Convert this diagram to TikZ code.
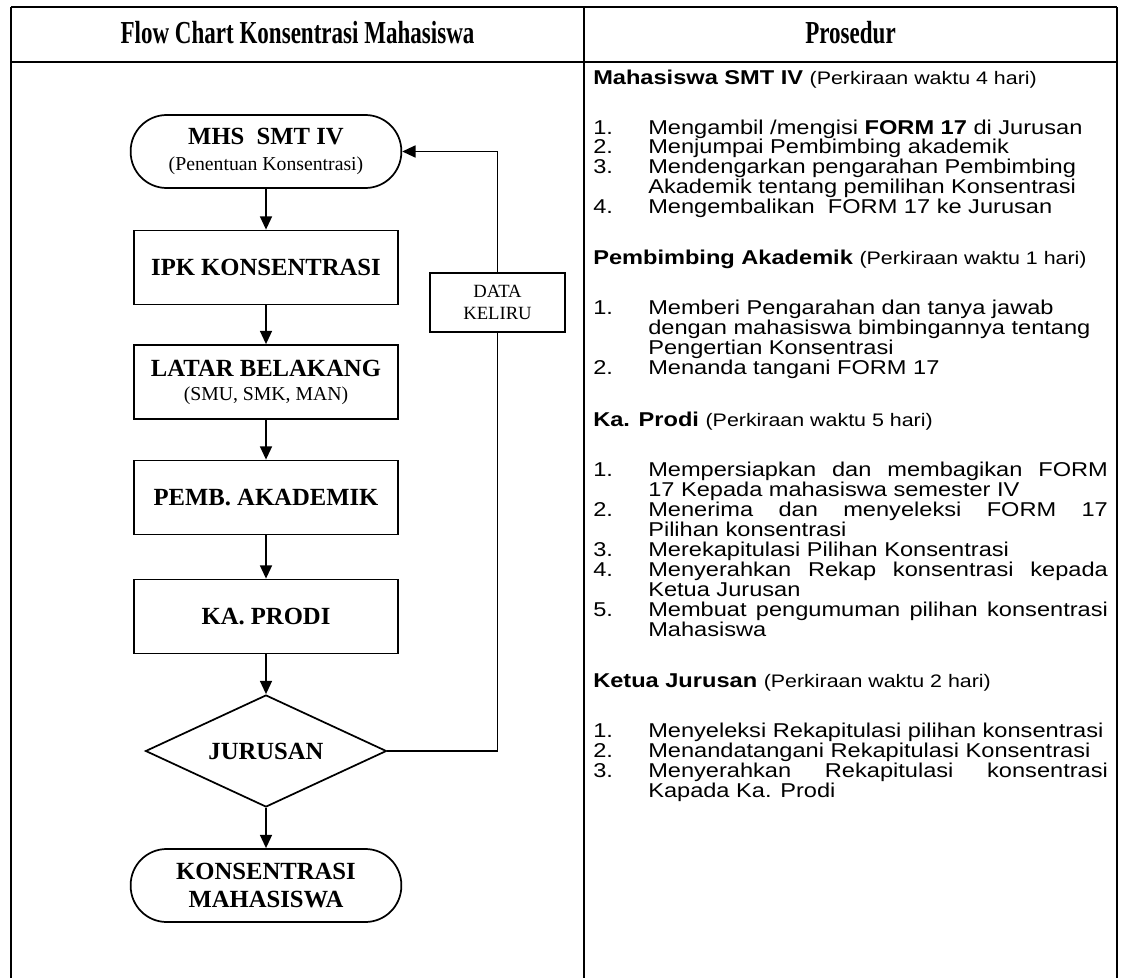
\documentclass[tikz,border=0pt]{standalone}
\usepackage{fontspec}
\setmainfont{Liberation Serif}
\newfontfamily\prosfont[FakeStretch=1.18]{Liberation Sans}
\newfontfamily\judulfont[FakeStretch=0.72]{Liberation Serif}
\usetikzlibrary{shapes.geometric,arrows.meta}
\setlength{\lineskiplimit}{-10pt}
\newcommand{\butir}[2]{\par\noindent\hangindent=41.25pt\hangafter=1\makebox[41.25pt][l]{#1}#2\par}
\begin{document}
\begin{tikzpicture}[x=0.75pt,y=-0.75pt,
  garis/.style={line width=1.3pt},
  proses/.style={draw,line width=1.3pt,minimum width=198pt,minimum height=55.5pt,inner sep=0pt,align=center,font=\bfseries\fontsize{18.5}{21}\selectfont},
  terminal/.style={proses,rounded corners=27pt,minimum width=203pt,minimum height=54.75pt},
  keputusan/.style={proses,diamond,aspect=2.15,minimum width=180.75pt,minimum height=84pt},
  catatan/.style={draw,line width=1.3pt,minimum width=101.25pt,minimum height=44.25pt,inner sep=0pt,align=center,font=\fontsize{14}{17}\selectfont},
  panah/.style={line width=1.3pt,-{Triangle[length=10pt,width=9pt]}},
  judul/.style={font=\judulfont\bfseries\fontsize{24}{26}\selectfont},
  blok/.style={anchor=base west,inner sep=0pt,text width=386pt,align=justify,font=\prosfont\fontsize{15}{15}\selectfont}]
\useasboundingbox (0,0) rectangle (1122,978);
% tabel
\draw[line width=2pt] (11,7) -- (1117,7);
\draw[line width=2pt] (11,62) -- (1117,62);
\draw[line width=1.1pt] (11,7) -- (11,978);
\draw[line width=1.1pt] (584,7) -- (584,978);
\draw[line width=1.1pt] (1117,7) -- (1117,978);
\node[judul] (jflow) at (297.5,33) {Flow Chart Konsentrasi Mahasiswa};
\node[judul] (jpros) at (850.5,33) {Prosedur};
% flow chart
\node[terminal] (mhs) at (266,151.5) {MHS\ \ SMT IV\\[-2pt]{\mdseries\fontsize{14.8}{17}\selectfont (Penentuan Konsentrasi)}};
\node[proses] (ipk) at (266,267.5) {IPK KONSENTRASI};
\node[proses] (latar) at (266,382) {LATAR BELAKANG\\[-3pt]{\mdseries\fontsize{14.8}{17}\selectfont (SMU, SMK, MAN)}};
\node[proses] (pemb) at (266,497.5) {PEMB. AKADEMIK};
\node[proses] (kaprodi) at (266,616.5) {KA. PRODI};
\node[keputusan] (jurusan) at (266,751) {JURUSAN};
\node[terminal] (konsentrasi) at (266,885.5) {KONSENTRASI\\MAHASISWA};
\node[catatan] (keliru) at (497.5,302.5) {DATA\\KELIRU};
\draw[panah] (mhs) -- (ipk);
\draw[panah] (ipk) -- (latar);
\draw[panah] (latar) -- (pemb);
\draw[panah] (pemb) -- (kaprodi);
\draw[panah] (kaprodi) -- (jurusan);
\draw[panah] (jurusan) -- (konsentrasi);
\draw[garis] (jurusan.east) -| (keliru.south);
\draw[panah] (keliru.north) |- (mhs.east);
% prosedur
\node[blok] (pmhs) at (593,84) {\textbf{Mahasiswa SMT IV} {\fontsize{13.6}{15}\selectfont (Perkiraan waktu 4 hari)}\par\vspace{22.5pt}
\butir{1.}{Mengambil /mengisi \textbf{FORM 17} di Jurusan}
\butir{2.}{Menjumpai Pembimbing akademik}
\butir{3.}{Mendengarkan pengarahan Pembimbing\newline Akademik tentang pemilihan Konsentrasi}
\butir{4.}{Mengembalikan\ \ FORM 17 ke Jurusan}};
\node[blok] (ppa) at (593,264) {\textbf{Pembimbing Akademik} {\fontsize{13.6}{15}\selectfont (Perkiraan waktu 1 hari)}\par\vspace{22.5pt}
\butir{1.}{Memberi Pengarahan dan tanya jawab\newline dengan mahasiswa bimbingannya tentang\newline Pengertian Konsentrasi}
\butir{2.}{Menanda tangani FORM 17}};
\node[blok] (pprodi) at (593,426) {\textbf{Ka. Prodi} {\fontsize{13.6}{15}\selectfont (Perkiraan waktu 5 hari)}\par\vspace{22.5pt}
\butir{1.}{Mempersiapkan dan membagikan FORM\linebreak 17 Kepada mahasiswa semester IV}
\butir{2.}{Menerima dan menyeleksi FORM 17\linebreak Pilihan konsentrasi}
\butir{3.}{Merekapitulasi Pilihan Konsentrasi}
\butir{4.}{Menyerahkan Rekap konsentrasi kepada\linebreak Ketua Jurusan}
\butir{5.}{Membuat pengumuman pilihan konsentrasi\linebreak Mahasiswa}};
\node[blok] (pkajur) at (593,687) {\textbf{Ketua Jurusan} {\fontsize{13.6}{15}\selectfont (Perkiraan waktu 2 hari)}\par\vspace{22.5pt}
\butir{1.}{Menyeleksi Rekapitulasi pilihan konsentrasi}
\butir{2.}{Menandatangani Rekapitulasi Konsentrasi}
\butir{3.}{Menyerahkan Rekapitulasi konsentrasi\linebreak Kapada Ka. Prodi}};
\end{tikzpicture}
\end{document}
